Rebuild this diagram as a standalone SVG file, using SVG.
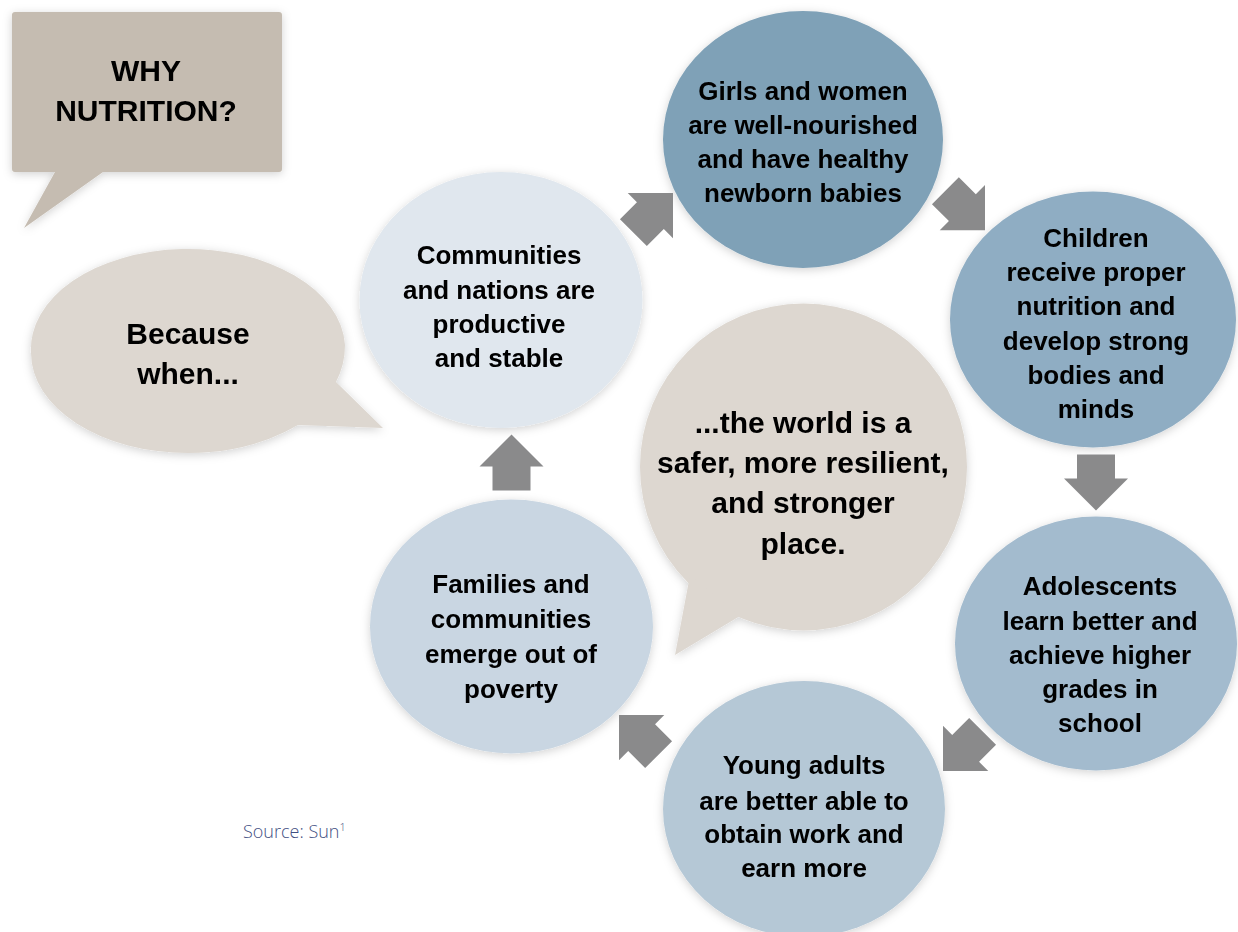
<svg xmlns="http://www.w3.org/2000/svg" width="1238" height="932" viewBox="0 0 1238 932">
<style>
.t{font-family:"Liberation Sans",Arial,sans-serif;font-weight:bold;font-size:26px;fill:#000;text-anchor:middle}
.big{font-size:30px}
.arr{fill:#8a8a8b}
.src{font-family:"Open Sans","Liberation Sans",sans-serif;font-weight:300;font-size:18px;fill:#3f4f82}
</style>
<defs>
<filter id="sh" x="-20%" y="-20%" width="140%" height="140%">
<feDropShadow dx="0" dy="2" stdDeviation="5" flood-color="#000" flood-opacity="0.18"/>
</filter>
<path id="arrow" d="M0,-28 L32,4 L19,4 L19,28 L-19,28 L-19,4 L-32,4 Z"/>
</defs>
<rect width="1238" height="932" fill="#fff"/>

<g id="why" filter="url(#sh)">
<path d="M15,12 H279 Q282,12 282,15 V169 Q282,172 279,172 H103 L24,228 L55,172 H15 Q12,172 12,169 V15 Q12,12 15,12 Z" fill="#c5bcb1"/>
<text class="t big" x="146" y="81">WHY</text>
<text class="t big" x="146" y="121">NUTRITION?</text>
</g>

<g id="because" filter="url(#sh)">
<path d="M31,353 A157,100 0 0 1 345,345 Q345,365 336,382 L383,428 L298,425 Q250,453 188,453 A157,100 0 0 1 31,353 Z" fill="#ddd7d0"/>
<text class="t big" x="188" y="344">Because</text>
<text class="t big" x="188" y="384">when...</text>
</g>

<g id="communities" filter="url(#sh)">
<ellipse cx="501" cy="300" rx="141.5" ry="128" fill="#e0e7ee"/>
<text class="t" x="499" y="264">Communities</text>
<text class="t" x="499" y="299">and nations are</text>
<text class="t" x="499" y="333">productive</text>
<text class="t" x="499" y="367">and stable</text>
</g>

<g id="girls" filter="url(#sh)">
<ellipse cx="803" cy="139.5" rx="140" ry="128.5" fill="#7fa1b7"/>
<text class="t" x="803" y="100">Girls and women</text>
<text class="t" x="803" y="134">are well-nourished</text>
<text class="t" x="803" y="168">and have healthy</text>
<text class="t" x="803" y="202">newborn babies</text>
</g>

<g id="children" filter="url(#sh)">
<ellipse cx="1093" cy="319.5" rx="143" ry="128" fill="#8fadc3"/>
<text class="t" x="1096" y="247">Children</text>
<text class="t" x="1096" y="281">receive proper</text>
<text class="t" x="1096" y="315">nutrition and</text>
<text class="t" x="1096" y="350">develop strong</text>
<text class="t" x="1096" y="384">bodies and</text>
<text class="t" x="1096" y="418">minds</text>
</g>

<g id="adolescents" filter="url(#sh)">
<ellipse cx="1096" cy="643.5" rx="141" ry="127" fill="#a3bbce"/>
<text class="t" x="1100" y="595">Adolescents</text>
<text class="t" x="1100" y="630">learn better and</text>
<text class="t" x="1100" y="664">achieve higher</text>
<text class="t" x="1100" y="698">grades in</text>
<text class="t" x="1100" y="732">school</text>
</g>

<g id="youngadults" filter="url(#sh)">
<ellipse cx="804" cy="809" rx="141" ry="128" fill="#b5c8d6"/>
<text class="t" x="804" y="774">Young adults</text>
<text class="t" x="804" y="810">are better able  to</text>
<text class="t" x="804" y="843">obtain work and</text>
<text class="t" x="804" y="877">earn more</text>
</g>

<g id="families" filter="url(#sh)">
<ellipse cx="511.5" cy="626.5" rx="141.5" ry="127" fill="#c9d6e2"/>
<text class="t" x="511" y="593">Families and</text>
<text class="t" x="511" y="628">communities</text>
<text class="t" x="511" y="663">emerge out of</text>
<text class="t" x="511" y="698">poverty</text>
</g>

<g id="world" filter="url(#sh)">
<circle cx="803.5" cy="467" r="163.5" fill="#ddd7d0"/>
<path d="M690,575 L675,655 L740,616 Z" fill="#ddd7d0"/>
<text class="t big" x="803" y="433">...the world is a</text>
<text class="t big" x="803" y="473">safer, more resilient,</text>
<text class="t big" x="803" y="513">and stronger</text>
<text class="t big" x="803" y="554">place.</text>
</g>

<g id="connectors" class="arr">
<use href="#arrow" transform="translate(653.2,212.8) rotate(45)"/>
<use href="#arrow" transform="translate(965.2,210.5) rotate(135)"/>
<use href="#arrow" transform="translate(1096,482.5) rotate(180)"/>
<use href="#arrow" transform="translate(962.8,751.2) rotate(225)"/>
<use href="#arrow" transform="translate(638.8,734.8) rotate(315)"/>
<use href="#arrow" transform="translate(511.5,462.5)"/>
</g>

<text class="src" x="243" y="838">Source: Sun<tspan font-size="11" dy="-7">1</tspan></text>
</svg>
